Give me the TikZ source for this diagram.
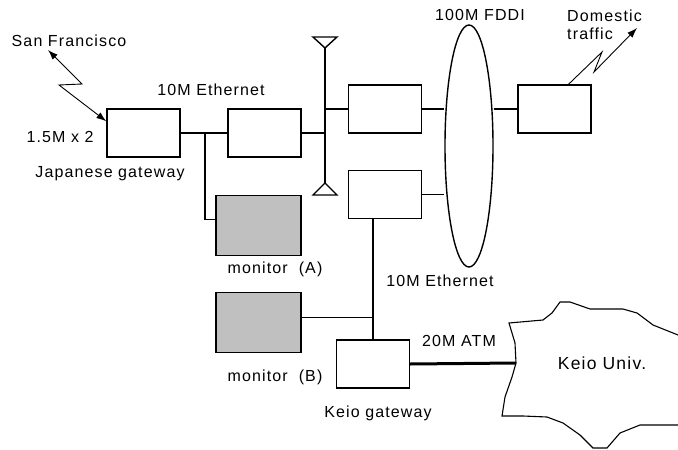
\documentclass[tikz,border=0pt]{standalone}
\usepackage{fontspec}
\setmainfont[LetterSpace=7]{Liberation Sans}
\usetikzlibrary{arrows.meta,calc,positioning,shapes.geometric}
\definecolor{mon}{RGB}{192,192,192}

\begin{document}
\begin{tikzpicture}[x=1pt,y=-1pt,line width=1.4pt,
  box/.style={draw,minimum width=73pt,minimum height=48pt,inner sep=0pt},
  monbox/.style={box,fill=mon,minimum width=85pt,minimum height=60pt},
  lbl/.style={font=\fontsize{16}{18}\selectfont,inner sep=0pt},
  bolt/.style={line width=0.9pt,-{Latex[length=10pt,width=7pt]}}]
  \useasboundingbox (0,0) rectangle (678,450);
  % gateways, routers and monitors
  \node[box] (jgw) at (143.5,133) {};
  \node[box] (rtA) at (264.5,133) {};
  \node[box] (rtB) at (385,109) {};
  \node[box] (rtC) at (385,194.5) {};
  \node[box] (rtD) at (554.5,109) {};
  \node[box] (kgw) at (373,364) {};
  \node[monbox] (monA) at (258.5,225.5) {};
  \node[monbox] (monB) at (258.5,322.5) {};
  \node[draw,ellipse,minimum width=48pt,minimum height=242pt,inner sep=0pt] (fddi) at (469,146) {};
  % bus with its two terminators
  \coordinate (bustop) at (325,48); \coordinate (busbot) at (325,183);
  \draw (bustop) -- (busbot);
  \draw (bustop) -- ++(-12,-11) -- ++(24,0) -- cycle;
  \draw (busbot) -- ++(12,12) -- ++(-24,0) -- cycle;
  % links
  \coordinate (tapA) at (205,133);
  \draw (jgw.east) -- (rtA.west);
  \draw (tapA) |- ([yshift=6pt]monA.west);
  \draw (rtA.east) -- (rtA.east -| bustop);
  \draw (bustop |- rtB.west) -- (rtB.west);
  \draw (rtB.east) -- (rtB.east -| fddi.west);
  \draw (rtC.east) -- (rtC.east -| fddi.west);
  \draw (fddi.east |- rtD.west) -- (rtD.west);
  \draw (kgw.north |- rtC.south) -- (kgw.north);
  \draw ([yshift=5pt]monB.east) -- ([yshift=5pt]monB.east -| kgw.north);
  % Keio cloud
  \coordinate (atm) at (516,363);
  \draw[line width=1.1pt] (690,340) -- (678,335) -- (653,325) -- (637,313) -- (623,309) -- (590,309) -- (570,302) -- (560,302) -- (552,313) -- (543,320) -- (509,323) -- (515,343) -- (atm) -- (512,377) -- (505,397) -- (502,416) -- (523,416) -- (547,417) -- (563,423) -- (580,435) -- (593,448) -- (607,448) -- (620,433) -- (640,425) -- (690,425);
  \draw[line width=3pt] (kgw.east) -- (atm);
  % radio links
  \coordinate (sf) at (48,50); \coordinate (dom) at (637,28);
  \draw[bolt,{Latex[length=10pt,width=7pt]}-{Latex[length=10pt,width=7pt]}] (sf) -- (82,84) -- (59,85) -- ([yshift=-13pt]jgw.north west);
  \draw[bolt] ([xshift=14pt]rtD.north) -- (602,52) -- (594,72) -- (dom);
  % labels
  \node[lbl] (lsf) at (69,41) {San Francisco};
  \node[lbl] (lline) at (60,137) {1.5M x 2};
  \node[lbl] (ljgw) at (110,174) {Japanese gateway};
  \node[lbl] (leth) at (211,90) {10M Ethernet};
  \node[lbl] (lfddi) at (480,15) {100M FDDI};
  \node[lbl,align=left] (ldom) at (604.5,24.5) {Domestic\\traffic};
  \node[lbl] (lmonA) at (275,269) {monitor~~(A)};
  \node[lbl] (lmonB) at (275,377) {monitor~~(B)};
  \node[lbl] (leth2) at (440,281) {10M Ethernet};
  \node[lbl] (latm) at (459,341) {20M ATM};
  \node[lbl] (lkgw) at (378,413) {Keio gateway};
  \node[lbl,font=\fontsize{17.5}{20}\selectfont] (lkeio) at (602,363) {Keio Univ.};
\end{tikzpicture}
\end{document}
